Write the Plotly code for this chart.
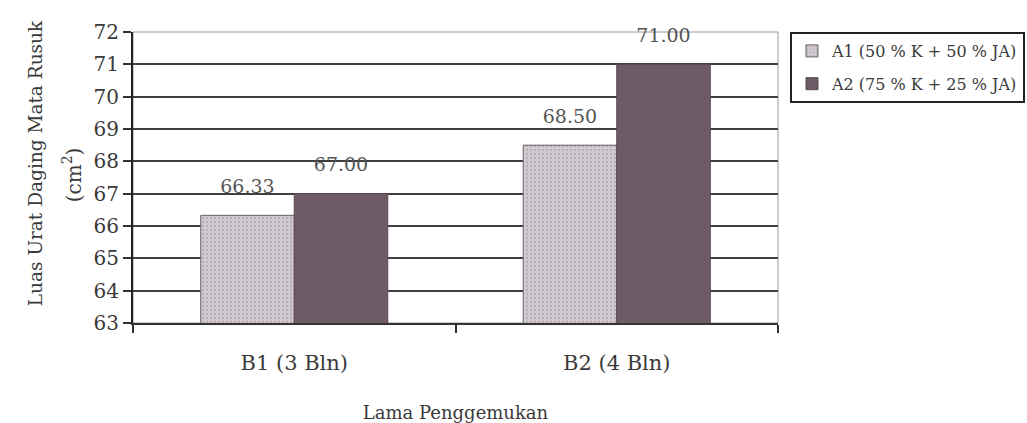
import plotly.graph_objects as go

categories = ["B1 (3 Bln)", "B2 (4 Bln)"]
series_names = ["A1 (50 % K + 50 % JA)", "A2 (75 % K + 25 % JA)"]
a1_values = [66.33, 68.50]
a2_values = [67.00, 71.00]
y_ticks = [63, 64, 65, 66, 67, 68, 69, 70, 71, 72]

FONT = "DejaVu Serif"
TXT = "#3a3a3a"
GAP = 0.42

fig = go.Figure()
fig.add_trace(go.Bar(
    name=series_names[0], x=categories, y=a1_values, offsetgroup="a1", legendgroup="a1",
    marker=dict(color="#cbc3c9",
                pattern=dict(shape=".", fgcolor="#978d97", bgcolor="#d2cad0", size=4, solidity=0.25),
                line=dict(color="#6a6068", width=1)),
    hoverinfo="skip",
))
fig.add_trace(go.Bar(
    name=series_names[1], x=categories, y=a2_values, offsetgroup="a2", legendgroup="a2",
    marker=dict(color="#6f5a68", line=dict(color="#5a4753", width=1)),
    hoverinfo="skip",
))
for vals, grp in ((a1_values, "a1"), (a2_values, "a2")):
    fig.add_trace(go.Scatter(
        x=categories, y=vals, offsetgroup=grp, legendgroup=grp, mode="text+markers",
        marker=dict(size=27, opacity=0),
        text=[f"{v:.2f}" for v in vals], textposition="top center",
        textfont=dict(family=FONT, size=19, color="#555555"),
        cliponaxis=False, showlegend=False, hoverinfo="skip",
    ))

fig.update_layout(
    width=1027, height=423,
    margin=dict(l=133, r=249, t=32, b=100, autoexpand=False),
    paper_bgcolor="white", plot_bgcolor="white",
    barmode="group", bargap=GAP, bargroupgap=0,
    scattermode="group", scattergap=GAP,
    font=dict(family=FONT, color=TXT),
    showlegend=True,
    legend=dict(x=1.0186, y=1.0, xanchor="left", yanchor="top",
                bordercolor="#222222", borderwidth=2,
                font=dict(family=FONT, size=16, color=TXT),
                itemwidth=30, traceorder="grouped", tracegroupgap=9),
    xaxis=dict(
        automargin=False,
        showline=True, linecolor="#333333", linewidth=2,
        ticks="outside", tickson="boundaries", ticklen=8, tickcolor="#333333", tickwidth=2,
        ticklabelstandoff=20,
        tickfont=dict(family=FONT, size=21, color=TXT),
        title=dict(text="Lama Penggemukan", standoff=38,
                   font=dict(family=FONT, size=18, color=TXT)),
    ),
    yaxis=dict(
        automargin=False,
        range=[63, 72], tickvals=y_ticks, ticktext=[str(v) for v in y_ticks],
        showline=True, linecolor="#222222", linewidth=2,
        ticks="outside", ticklen=8, tickcolor="#333333", tickwidth=2,
        showgrid=True, gridcolor="#3f3f3f", gridwidth=2,
        zeroline=False,
        tickfont=dict(family=FONT, size=20, color=TXT),
    ),
    shapes=[dict(type="rect", xref="x domain", yref="y domain", x0=0, x1=1, y0=0, y1=1,
                 line=dict(color="#999999", width=1), layer="below")],
    annotations=[
        dict(text="Luas Urat Daging Mata Rusuk",
             xref="paper", yref="paper", x=-0.150, y=0.55, xanchor="center", yanchor="middle",
             textangle=-90, showarrow=False,
             font=dict(family=FONT, size=18.5, color=TXT)),
        dict(text="(cm<sup>2</sup>)",
             xref="paper", yref="paper", x=-0.095, y=0.51, xanchor="center", yanchor="middle",
             textangle=-90, showarrow=False,
             font=dict(family=FONT, size=20, color=TXT)),
    ],
)

fig.write_html("out.html")
